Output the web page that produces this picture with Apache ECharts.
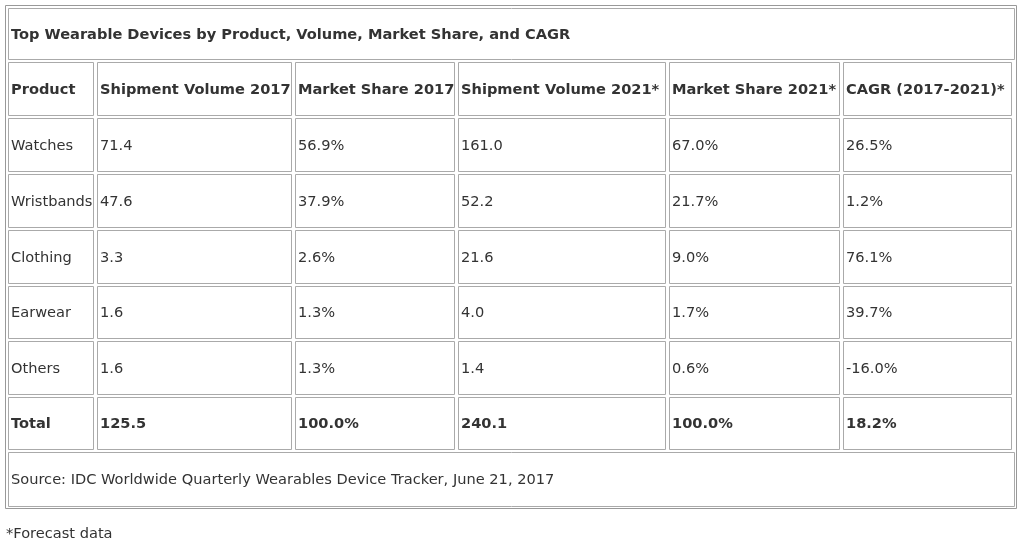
<!DOCTYPE html><html><head><meta charset="utf-8"><script src="https://cdn.jsdelivr.net/npm/echarts@6/dist/echarts.min.js"></script>
<style>html,body{margin:0;padding:0;background:#fff}#c{width:1024px;height:547px}</style></head><body><div id="c"></div><script>
var title = "Top Wearable Devices by Product, Volume, Market Share, and CAGR";
var headers = ["Product","Shipment Volume 2017","Market Share 2017","Shipment Volume 2021*","Market Share 2021*","CAGR (2017-2021)*"];
var products = ["Watches","Wristbands","Clothing","Earwear","Others","Total"];
var volume2017 = ["71.4","47.6","3.3","1.6","1.6","125.5"];
var share2017 = ["56.9%","37.9%","2.6%","1.3%","1.3%","100.0%"];
var volume2021 = ["161.0","52.2","21.6","4.0","1.4","240.1"];
var share2021 = ["67.0%","21.7%","9.0%","1.7%","0.6%","100.0%"];
var cagr = ["26.5%","1.2%","76.1%","39.7%","-16.0%","18.2%"];
var source = "Source: IDC Worldwide Quarterly Wearables Device Tracker, June 21, 2017";
var footnote = "*Forecast data";

var colX = [8,97,295,458,669,843,1015];
var rowY = [8,62,118,174,230,286,341,397,452,507];
var font = "DejaVu Sans";
var fs = '14.6px';
var els = [];
els.push({type:'rect',shape:{x:5.5,y:5.5,width:1011,height:503},style:{fill:'none',stroke:'#999',lineWidth:1}});
function cell(x1,x2,y1,y2,txt,bold){
  els.push({type:'rect',shape:{x:x1+0.5,y:y1+0.5,width:x2-x1-1,height:y2-y1-1},style:{fill:'#fff',stroke:'#aaa',lineWidth:1}});
  els.push({type:'text',x:x1+3,y:(y1+y2)/2+1,style:{text:txt,font:(bold?'bold ':'')+fs+' "'+font+'"',fill:'#333',textVerticalAlign:'middle'}});
}
cell(colX[0],colX[6],rowY[0],rowY[1]-2,title,true);
headers.forEach(function(h,i){cell(colX[i],colX[i+1]-3,rowY[1],rowY[2]-2,h,true);});
var cols=[products,volume2017,share2017,volume2021,share2021,cagr];
for(var r=0;r<products.length;r++){
  for(var c=0;c<6;c++) cell(colX[c],colX[c+1]-3,rowY[r+2],rowY[r+3]-2,cols[c][r],r===products.length-1);
}
cell(colX[0],colX[6],rowY[8],rowY[9],source,false);
els.push({type:'text',x:6,y:534,style:{text:footnote,font:fs+' "'+font+'"',fill:'#333',textVerticalAlign:'middle'}});
var ch=echarts.init(document.getElementById('c'));
ch.setOption({animation:false,graphic:{elements:els}});
</script></body></html>
